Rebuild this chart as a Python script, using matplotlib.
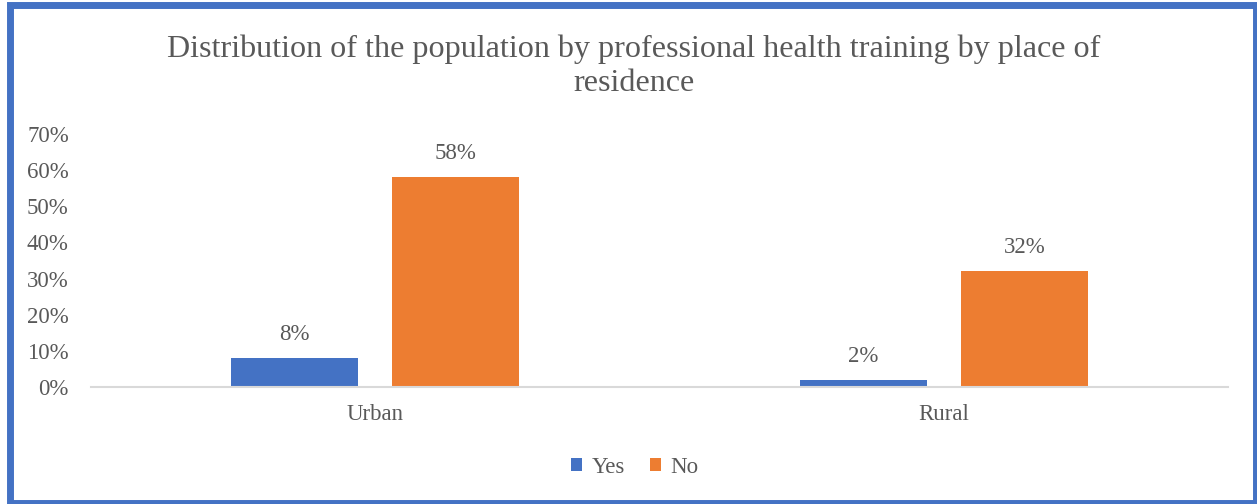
import numpy as np
import matplotlib
matplotlib.use("Agg")
import matplotlib.pyplot as plt
from matplotlib.patches import Rectangle

categories = ["Urban", "Rural"]
yes_values = [8, 2]
no_values = [58, 32]
series_names = ["Yes", "No"]
y_ticks = [0, 10, 20, 30, 40, 50, 60, 70]

BLUE = "#4472C4"
ORANGE = "#ED7D31"
TEXT = "#595959"

plt.rcParams['font.family'] = ['Liberation Serif', 'DejaVu Serif']

fig = plt.figure(figsize=(12.57, 5.04), dpi=100)
ax = fig.add_axes([0.0724, 0.2321, 0.9046, 0.502])

x = np.arange(len(categories))
width = 0.2235
offset = 0.1416

bars_yes = ax.bar(x - offset, yes_values, width, color=BLUE, label=series_names[0])
bars_no = ax.bar(x + offset, no_values, width, color=ORANGE, label=series_names[1])

# value labels above each bar
for bars in (bars_yes, bars_no):
    for b in bars:
        ax.annotate(f"{b.get_height():.0f}%", (b.get_x() + b.get_width() / 2, b.get_height()),
                    xytext=(0, 13), textcoords="offset points", ha="center", va="baseline",
                    fontsize=16.5, color=TEXT)

ax.set_xlim(-0.5, 1.5)
ax.set_ylim(0, 70)
ax.set_yticks(y_ticks)
ax.set_yticklabels([f"{t}%" for t in y_ticks])
ax.set_xticks(x)
ax.set_xticklabels(categories)
ax.tick_params(axis="both", length=0, labelsize=16.5, colors=TEXT)
ax.tick_params(axis="x", pad=12)
ax.tick_params(axis="y", pad=16)

for side in ["top", "right", "left"]:
    ax.spines[side].set_visible(False)
ax.spines["bottom"].set_color("#D9D9D9")
ax.spines["bottom"].set_linewidth(1.5)

fig.text(0.5044, 0.8869, "Distribution of the population by professional health training by place of",
         ha="center", va="baseline", fontsize=23.1, color=TEXT)
fig.text(0.5044, 0.8194, "residence", ha="center", va="baseline", fontsize=23.1, color=TEXT)

fig.legend(loc="center", bbox_to_anchor=(0.505, 0.073), ncol=2, frameon=False,
           fontsize=16.5, labelcolor=TEXT, handlelength=0.48, handleheight=0.48,
           handletextpad=0.4, columnspacing=1.1)

# blue frame around the chart
fig.patches.append(Rectangle((0.00756, 0.001), 0.992, 0.9881, transform=fig.transFigure,
                             fill=False, edgecolor=BLUE, linewidth=5.0))

fig.savefig("out.png", dpi=100)
